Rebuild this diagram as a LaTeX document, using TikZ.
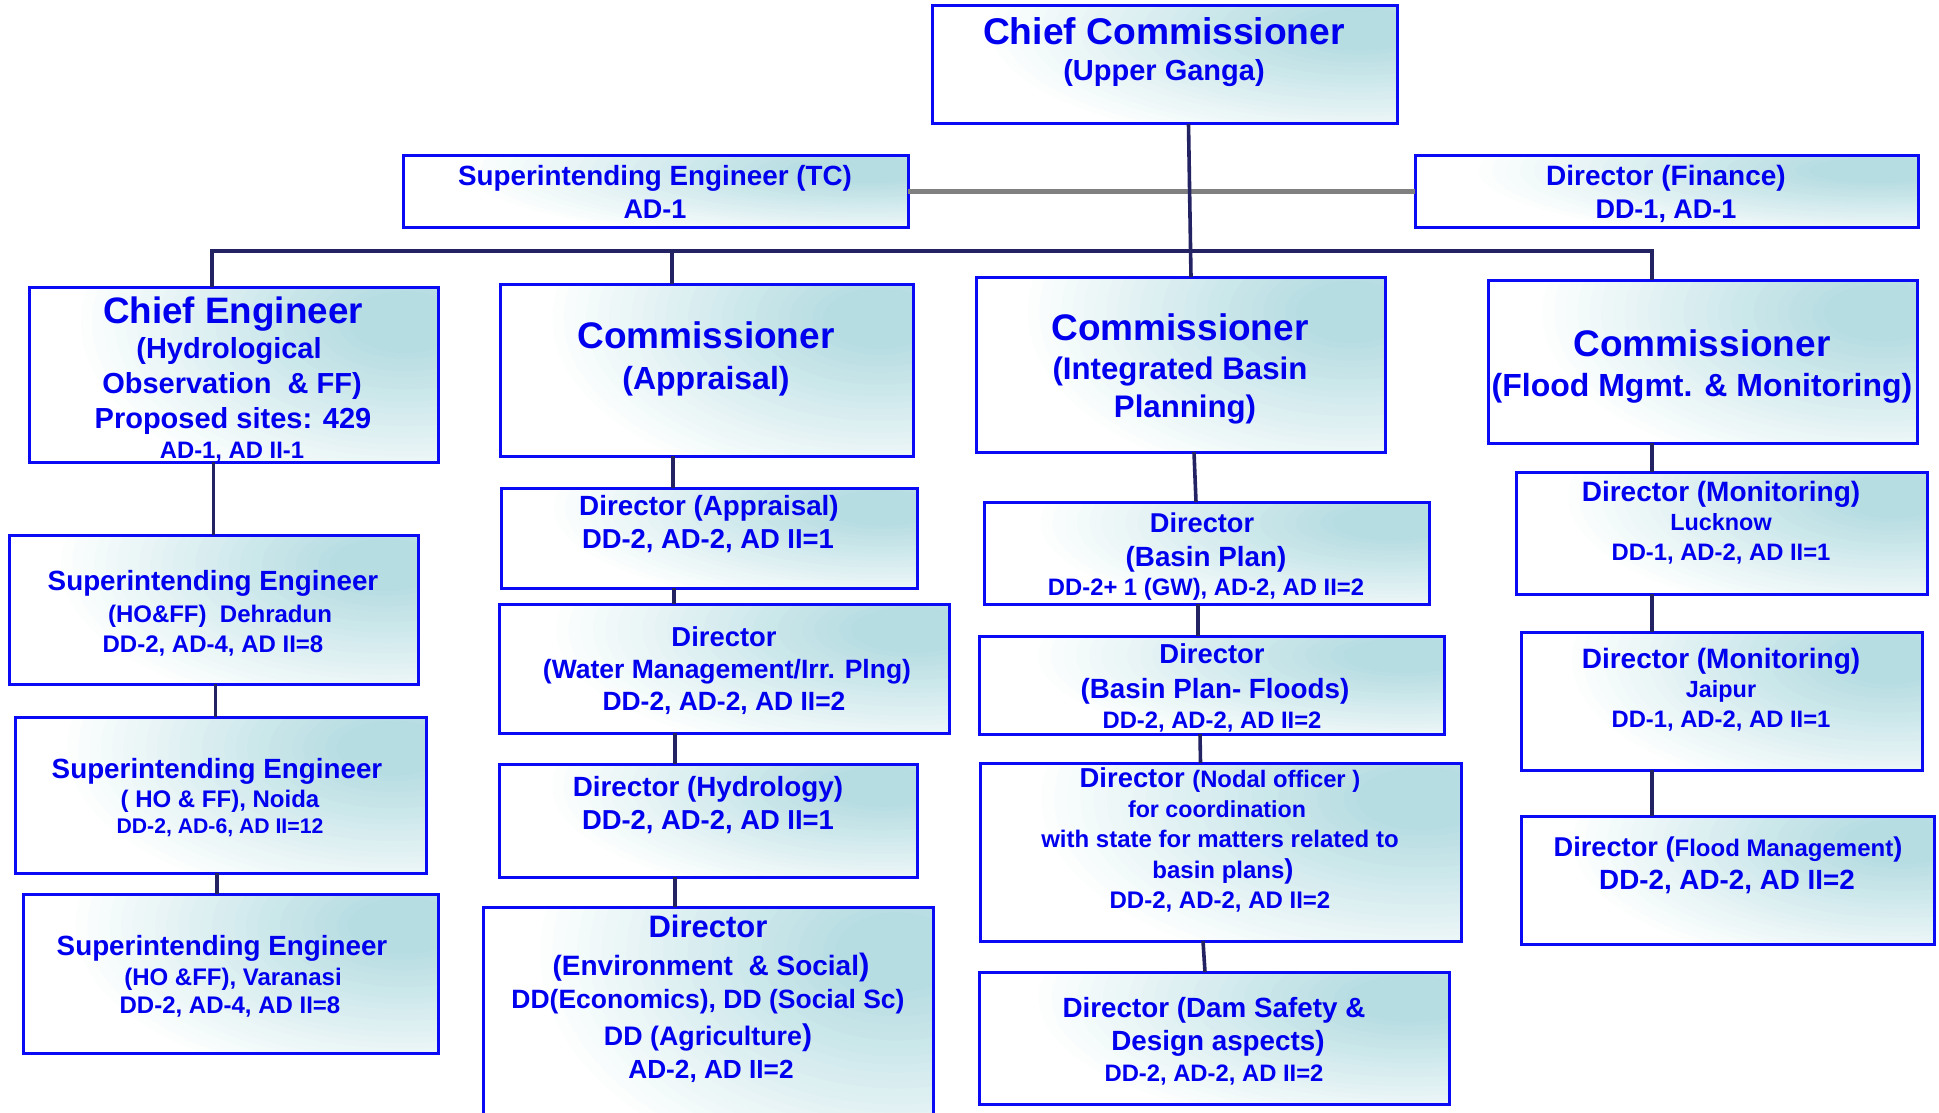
\documentclass[tikz,border=0pt]{standalone}
\usepackage{fontspec}
\setmainfont{Liberation Sans}
\usetikzlibrary{calc}
\definecolor{txtc}{RGB}{0,0,238}
\definecolor{bordc}{RGB}{10,10,245}
\definecolor{tealc}{RGB}{182,221,226}
\definecolor{navyc}{RGB}{35,35,100}
\definecolor{greyc}{RGB}{128,128,128}
\newcommand\fsz[1]{\fontsize{#1}{#1}\selectfont\bfseries}
\newcommand\orgnode[5]{\node[orgbox, minimum width={(#4-#2)*0.5pt}, minimum height={(#5-#3)*0.5pt}] (#1) at ({(#2+#4)/2},{(#3+#5)/2}) {};}
\newcommand\tline[5]{\node[tl] (#1) at (#2,#3) {\fsz{#4}#5};}
\begin{document}
\begin{tikzpicture}[x=0.5pt,y=-0.5pt,
  orgbox/.style={draw=bordc, line width=1.5pt, fill=white, inner sep=0pt, outer sep=0pt,
    path picture={
      \foreach \i in {1,...,30}{
        \pgfmathsetmacro\fr{1-(\i-1)/30}
        \pgfmathsetmacro\pc{min(100,120*(\i-1)/30)}
        \fill[tealc!\pc!white]
          let \p1=(path picture bounding box.south west), \p2=(path picture bounding box.north east)
          in ({\x2-0.08*(\x2-\x1)},{\y2-0.2*(\y2-\y1)}) ellipse ({\fr*0.82*(\x2-\x1)} and {\fr*1.05*(\y2-\y1)});
      }
    }},
  tl/.style={anchor=base, inner sep=0pt, outer sep=0pt, text=txtc},
  conn/.style={draw=navyc, line width=1.8pt},
  greyline/.style={draw=greyc, line width=2.6pt}]
\useasboundingbox (0,0) rectangle (1939,1113);

% boxes
\orgnode{cc}{932}{6}{1397}{124}
\orgnode{setc}{403}{156}{908}{227}
\orgnode{df}{1415}{156}{1918}{227}
\orgnode{ce}{29}{287}{438}{462}
\orgnode{ca}{500}{284}{913}{456}
\orgnode{ci}{976}{277}{1385}{452}
\orgnode{cf}{1488}{280}{1917}{443}
\orgnode{se1}{9}{535}{418}{684}
\orgnode{se2}{15}{717}{426}{873}
\orgnode{se3}{23}{894}{438}{1053}
\orgnode{da}{501}{488}{917}{588}
\orgnode{dw}{499}{604}{949}{733}
\orgnode{dh}{499}{764}{917}{877}
\orgnode{de}{483}{907}{933}{1135}
\orgnode{dbp}{984}{502}{1429}{604}
\orgnode{dbf}{979}{636}{1444}{734}
\orgnode{dn}{980}{763}{1461}{941}
\orgnode{dd}{979}{972}{1449}{1104}
\orgnode{dml}{1516}{472}{1927}{594}
\orgnode{dmj}{1521}{632}{1922}{770}
\orgnode{dfm}{1521}{816}{1934}{944}

% connectors
\coordinate (busL) at (212,251);
\coordinate (busR) at (1652,251);
\draw[greyline] (setc.east) -- (df.west);
\draw[conn] ($(cc.south)+(24,0)$) -- ($(ci.north)+(10.5,0)$);
\draw[conn] (ce.north -| busL) -- (busL) -- (busR) -- (cf.north -| busR);
\draw[conn] ($(ca.north)+(-34.5,0)$) coordinate (caT) -- (caT |- busL);
\draw[conn] (se1.north |- ce.south) -- (se1.north);
\draw[conn] ($(se1.south)+(2,0)$) coordinate (c1) -- (c1 |- se2.north);
\draw[conn] ($(se2.south)+(-3.5,0)$) coordinate (c2) -- (c2 |- se3.north);
\draw[conn] ($(ca.south)+(-33.5,0)$) coordinate (c3) -- (c3 |- da.north);
\draw[conn] ($(da.south)+(-35,0)$) coordinate (c4) -- (c4 |- dw.north);
\draw[conn] ($(dw.south)+(-49,0)$) coordinate (c5) -- (c5 |- dh.north);
\draw[conn] ($(dh.south)+(-33,0)$) coordinate (c6) -- (c6 |- de.north);
\draw[conn] ($(ci.south)+(13.5,0)$) -- ($(dbp.north)+(-10.5,0)$);
\draw[conn] ($(dbp.south)+(-8.5,0)$) coordinate (c7) -- (c7 |- dbf.north);
\draw[conn] ($(dbf.south)+(-11.5,0)$) -- ($(dn.north)+(-20,0)$);
\draw[conn] ($(dn.south)+(-17.5,0)$) -- ($(dd.north)+(-9,0)$);
\draw[conn] ($(cf.south)+(-50.5,0)$) coordinate (c8) -- (c8 |- dml.north);
\draw[conn] ($(dml.south)+(-69.5,0)$) coordinate (c9) -- (c9 |- dmj.north);
\draw[conn] ($(dmj.south)+(-69.5,0)$) coordinate (c10) -- (c10 |- dfm.north);

% texts
\tline{t1}{1164}{45}{18.6}{Chief Commissioner}
\tline{t2}{1164}{81}{14.5}{(Upper Ganga)}
\tline{t3}{655}{185}{13.9}{Superintending Engineer (TC)}
\tline{t4}{655}{219}{13.5}{AD-1}
\tline{t5}{1666}{185}{14}{Director (Finance)}
\tline{t6}{1666}{219}{13.5}{DD-1, AD-1}

\tline{t7}{233}{323}{18.4}{Chief Engineer}
\tline{t8}{229}{358}{14.5}{(Hydrological}
\tline{t9}{232}{393}{14.5}{Observation\ \ \& FF)}
\tline{t10}{233}{428}{14.5}{Proposed sites: 429}
\tline{t11}{232}{458}{11.9}{AD-1, AD II-1}

\tline{t12}{706}{348}{18.5}{Commissioner}
\tline{t13}{706}{389}{16}{(Appraisal)}
\tline{t14}{1180}{340}{18.5}{Commissioner}
\tline{t15}{1180}{379}{15.6}{(Integrated Basin}
\tline{t16}{1185}{417}{15.6}{Planning)}
\tline{t17}{1702}{356}{18.5}{Commissioner}
\tline{t18}{1702}{396}{16}{(Flood Mgmt. \& Monitoring)}

\tline{t19}{213}{590}{13.9}{Superintending Engineer}
\tline{t20}{220}{622}{12}{(HO\&FF)\ \ Dehradun}
\tline{t21}{213}{652}{12}{DD-2, AD-4, AD II=8}
\tline{t22}{217}{778}{13.9}{Superintending Engineer}
\tline{t23}{220}{807}{12}{( HO \& FF), Noida}
\tline{t24}{220}{833}{10.6}{DD-2, AD-6, AD II=12}
\tline{t25}{222}{955}{13.9}{Superintending Engineer}
\tline{t26}{233}{985}{12}{(HO \&FF), Varanasi}
\tline{t27}{230}{1013}{12}{DD-2, AD-4, AD II=8}

\tline{t28}{709}{515}{13.9}{Director (Appraisal)}
\tline{t29}{708}{548}{13.7}{DD-2, AD-2, AD II=1}
\tline{t30}{724}{646}{13.7}{Director}
\tline{t31}{727}{678}{13.25}{(Water Management/Irr. Plng)}
\tline{t32}{724}{710}{13.2}{DD-2, AD-2, AD II=2}
\tline{t33}{708}{796}{13.9}{Director (Hydrology)}
\tline{t34}{708}{829}{13.7}{DD-2, AD-2, AD II=1}
\tline{t35}{708}{937}{15.5}{Director}
\tline{t36}{711}{975}{14}{(Environment\ \ \& Social{\fsz{15.5})}}
\tline{t37}{708}{1008}{13.25}{DD(Economics), DD (Social Sc)}
\tline{t38}{708}{1045}{13.4}{DD (Agriculture{\fsz{15})}}
\tline{t39}{711}{1078}{13.1}{AD-2, AD II=2}

\tline{t40}{1202}{532}{13.6}{Director}
\tline{t41}{1206}{566}{13.9}{(Basin Plan)}
\tline{t42}{1206}{595}{11.9}{DD-2+ 1 (GW), AD-2, AD II=2}
\tline{t43}{1212}{663}{13.7}{Director}
\tline{t44}{1215}{698}{13.9}{(Basin Plan- Floods)}
\tline{t45}{1212}{728}{11.9}{DD-2, AD-2, AD II=2}
\tline{t46}{1220}{787}{13.7}{Director {\fsz{11.9}(Nodal officer )}}
\tline{t47}{1217}{817}{11.6}{for coordination}
\tline{t48}{1220}{847}{12}{with state for matters related to}
\tline{t49}{1223}{878}{12}{basin plans{\fsz{13.7})}}
\tline{t50}{1220}{908}{12}{DD-2, AD-2, AD II=2}
\tline{t51}{1214}{1017}{13.9}{Director (Dam Safety \&}
\tline{t52}{1218}{1050}{13.9}{Design aspects)}
\tline{t53}{1214}{1081}{11.9}{DD-2, AD-2, AD II=2}

\tline{t54}{1721}{501}{14}{Director (Monitoring)}
\tline{t55}{1721}{530}{11.7}{Lucknow}
\tline{t56}{1721}{560}{11.9}{DD-1, AD-2, AD II=1}
\tline{t57}{1721}{668}{14}{Director (Monitoring)}
\tline{t58}{1721}{697}{11.7}{Jaipur}
\tline{t59}{1721}{727}{11.9}{DD-1, AD-2, AD II=1}
\tline{t60}{1728}{856}{13.6}{Director {\fsz{13.6}(}{\fsz{12}Flood Management}{\fsz{13.6})}}
\tline{t61}{1727}{889}{13.9}{DD-2, AD-2, AD II=2}
\end{tikzpicture}
\end{document}
